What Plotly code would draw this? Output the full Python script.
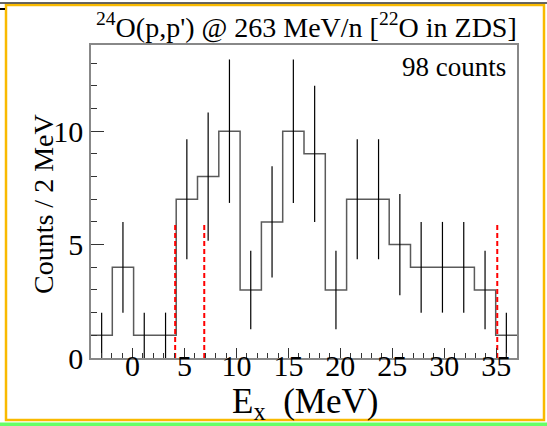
import numpy as np
import plotly.graph_objects as go

# ---- data ----
x_low, x_high = -4.0, 37.0
counts = [1, 4, 1, 1, 7, 8, 10, 3, 6, 10, 9, 3, 7, 7, 5, 4, 4, 4, 3, 1]
threshold_lines = [4.1, 6.9, 35.1]
threshold_height = 6
title_text = "<sup>24</sup>O(p,p') @ 263 MeV/n [<sup>22</sup>O in ZDS]"
count_label = "98 counts"
x_title = "E<sub>x</sub>  (MeV)"
y_title = "Counts / 2 MeV"

nb = len(counts)
edges = np.linspace(x_low, x_high, nb + 1)
centers = 0.5 * (edges[:-1] + edges[1:])
errs = np.sqrt(np.array(counts, dtype=float))

W, H = 547, 426
L, R, T, B = 91, 517, 45, 358
def px(x):
    return (x - L) / (R - L)
def py(y):
    return (B - y) / (B - T)

FONT = "Liberation Serif, Times New Roman, Times, serif"

fig = go.Figure()
fig.add_trace(go.Scatter(
    x=list(edges[:-1]) + [edges[-1]], y=list(counts) + [counts[-1]],
    mode="lines", line=dict(shape="hv", color="#5a5a5a", width=1.5),
    hoverinfo="skip", showlegend=False))
fig.add_trace(go.Scatter(
    x=centers, y=counts, mode="markers",
    marker=dict(size=1, color="rgba(0,0,0,0)"),
    error_y=dict(type="data", array=errs, visible=True, color="black",
                 thickness=1.2, width=0),
    showlegend=False))
for xv in threshold_lines:
    fig.add_trace(go.Scatter(
        x=[xv, xv], y=[0, threshold_height], mode="lines",
        line=dict(color="#ff0000", width=2, dash="5px,3px"),
        showlegend=False))
# invisible trace carrying the label axis
fig.add_trace(go.Scatter(x=[x_low, x_high], y=[0, 0], xaxis="x2", mode="lines",
                         line=dict(width=0), hoverinfo="skip", showlegend=False))

shapes = [
    dict(type="rect", xref="paper", yref="paper",
         x0=px(6), x1=px(544), y0=py(420), y1=py(5),
         line=dict(color="#F9BA00", width=2.5), fillcolor="rgba(0,0,0,0)", layer="above"),
    dict(type="rect", xref="paper", yref="paper",
         x0=px(0), x1=px(547), y0=py(426), y1=py(422.5),
         line=dict(width=0), fillcolor="#66FF66", layer="above"),
    dict(type="line", xref="paper", yref="paper",
         x0=px(0), x1=px(547), y0=py(3), y1=py(3),
         line=dict(color="#333333", width=1.5)),
    dict(type="line", xref="paper", yref="paper",
         x0=px(0), x1=px(5), y0=py(9), y1=py(9),
         line=dict(color="#000000", width=2)),
]

fig.update_layout(
    width=W, height=H,
    margin=dict(l=L, r=W - R, t=T, b=H - B),
    paper_bgcolor="white", plot_bgcolor="white",
    font=dict(family=FONT, color="black"),
    showlegend=False,
    shapes=shapes,
    annotations=[
        dict(text=title_text, xref="paper", yref="paper", x=px(519), y=py(25),
             xanchor="right", yanchor="middle", showarrow=False,
             font=dict(size=28, family=FONT)),
        dict(text=count_label, xref="paper", yref="paper", x=px(508), y=py(67),
             xanchor="right", yanchor="middle", showarrow=False,
             font=dict(size=27, family=FONT)),
        dict(text=y_title, xref="paper", yref="paper", x=px(43), y=py(204),
             xanchor="center", yanchor="middle", textangle=-90, showarrow=False,
             font=dict(size=28, family=FONT)),
        dict(text=x_title, xref="paper", yref="paper", x=px(305), y=py(403),
             xanchor="center", yanchor="middle", showarrow=False,
             font=dict(size=35, family=FONT)),
    ],
    xaxis=dict(range=[x_low, x_high], showgrid=False, zeroline=False,
               showline=True, linecolor="#888888", linewidth=1.5, mirror=True,
               ticks="inside", ticklen=10, tickwidth=1.2, tickcolor="#333333",
               dtick=5, tick0=0, showticklabels=False,
               minor=dict(dtick=1, tick0=0, ticks="inside", ticklen=5,
                          tickcolor="#333333", tickwidth=1.2, showgrid=False)),
    xaxis2=dict(range=[x_low, x_high], overlaying="x", anchor="free",
                position=0.042, side="bottom", showgrid=False, zeroline=False,
                showline=False, ticks="", dtick=5, tick0=0,
                tickfont=dict(size=30, family=FONT)),
    yaxis=dict(range=[0, 13.8], showgrid=False, zeroline=False,
               showline=True, linecolor="#888888", linewidth=1.5, mirror=True,
               ticks="inside", ticklen=13, tickwidth=1.2, tickcolor="#333333",
               dtick=5, tick0=0,
               minor=dict(dtick=1, tick0=0, ticks="inside", ticklen=6,
                          tickcolor="#333333", tickwidth=1.2, showgrid=False),
               tickfont=dict(size=30, family=FONT)),
)

fig.write_html("out.html")
